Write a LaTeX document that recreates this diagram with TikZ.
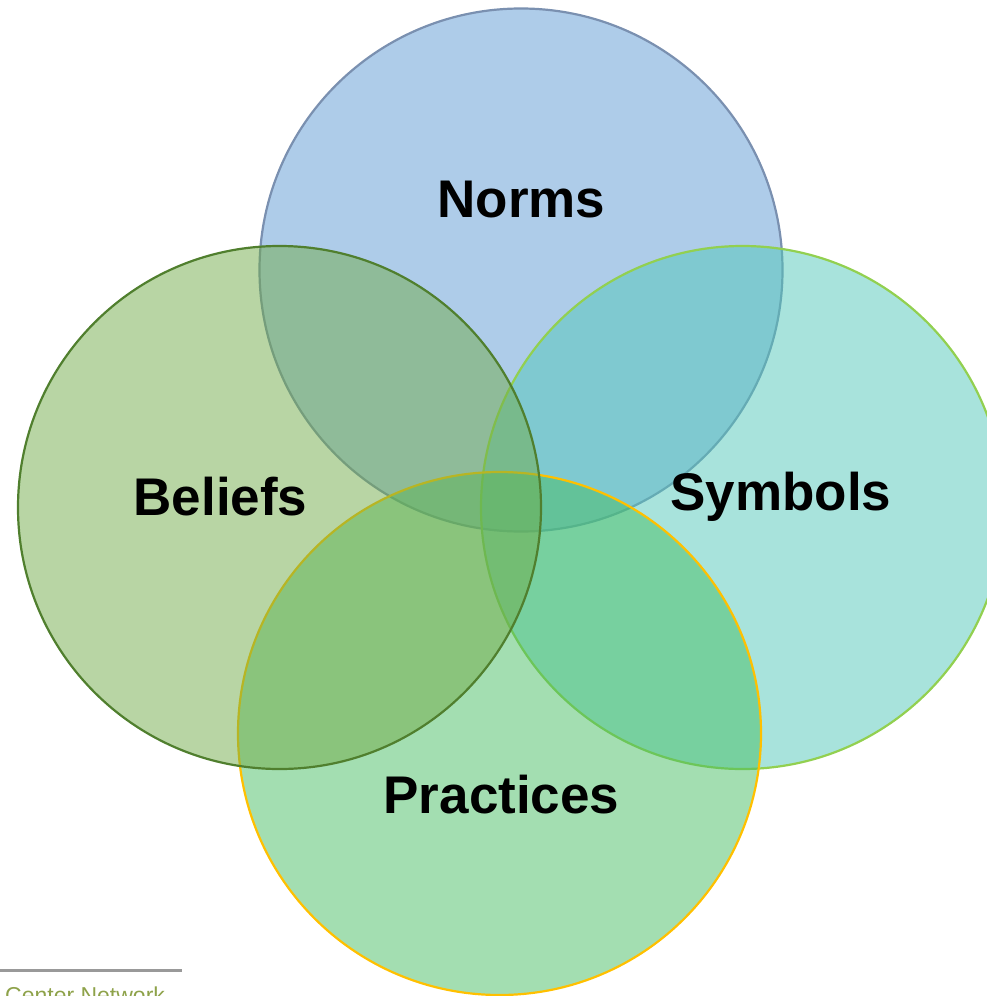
\documentclass[tikz,border=0pt]{standalone}
\usepackage{fontspec}
\setmainfont{Liberation Sans}
\begin{document}
\begin{tikzpicture}[x=1pt,y=-1pt,
  ring/.style={circle, minimum size=523pt, inner sep=0pt, line width=2.2pt, fill opacity=0.5, draw opacity=1},
  title/.style={font=\bfseries\fontsize{53}{60}\selectfont, text=black, anchor=base, inner sep=0pt}]
\definecolor{normsfill}{RGB}{93,153,211}
\definecolor{normsline}{RGB}{122,144,176}
\definecolor{symbfill}{RGB}{81,199,185}
\definecolor{symbline}{RGB}{146,208,80}
\definecolor{pracfill}{RGB}{71,189,99}
\definecolor{pracline}{RGB}{255,192,0}
\definecolor{belffill}{RGB}{113,171,73}
\definecolor{belfline}{RGB}{80,127,46}
\definecolor{footline}{RGB}{153,153,153}
\definecolor{foottext}{RGB}{142,162,74}
\useasboundingbox (0,0) rectangle (987,996);
% four overlapping circles, stacked in drawing order
\node[ring, draw=normsline, fill=normsfill] (norms) at (521,270) {};
\node[ring, draw=symbline, fill=symbfill] (symbols) at (742.5,507.5) {};
\node[ring, draw=pracline, fill=pracfill] (practices) at (499.5,733.5) {};
\node[ring, draw=belfline, fill=belffill] (beliefs) at (279.5,507.5) {};
% labels
\node[title] (tnorms) at (521.5,217) {Norms};
\node[title] (tsymbols) at (781,510) {Symbols};
\node[title] (tpractices) at (501.5,813) {Practices};
\node[title] (tbeliefs) at (220.5,515) {Beliefs};
% footer rule and caption
\coordinate (fl) at (0,970.5);
\coordinate (fr) at (182,970.5);
\draw[footline, line width=2.5pt] (fl) -- (fr);
\node[anchor=base west, inner sep=0pt, text=foottext, font=\fontsize{23}{27}\selectfont] (foot) at (5,1003.5) {Center Network};
\end{tikzpicture}
\end{document}
